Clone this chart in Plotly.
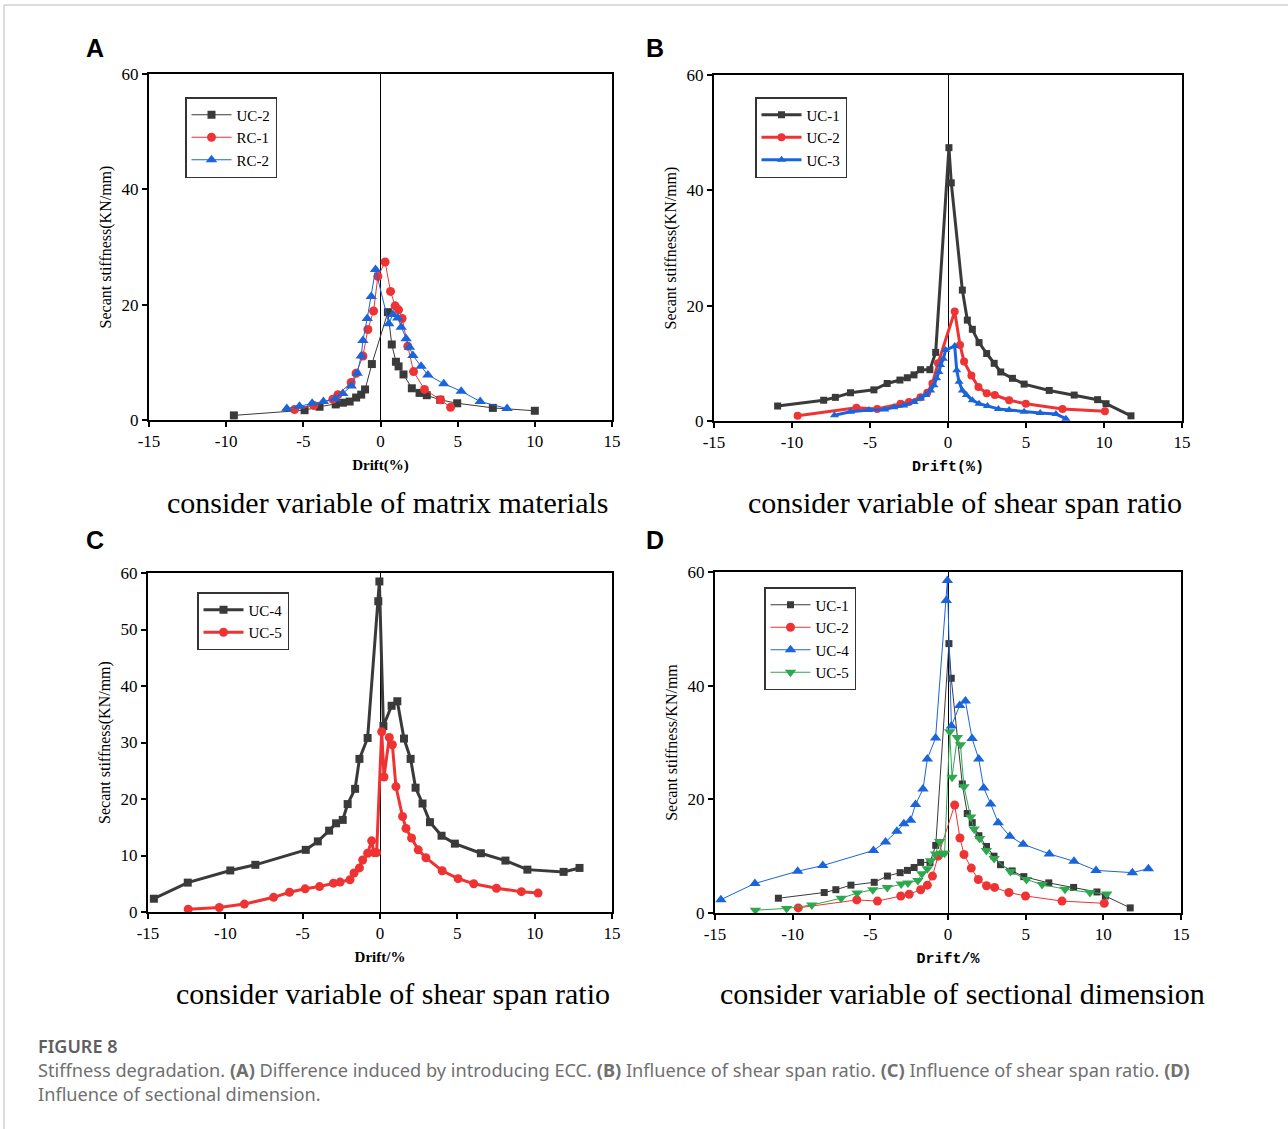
import plotly.graph_objects as go

# ---- data ----
a_uc2_x = [-9.5, -4.92, -3.95, -2.9, -2.44, -2.0, -1.58, -1.25, -1.0, -0.56,
           0.48, 0.73, 1.0, 1.17, 1.49, 2.03, 2.53, 3.0, 3.87, 4.97, 7.28, 10.0]
a_uc2_y = [0.8, 1.7, 2.3, 2.7, 3.0, 3.2, 3.9, 4.4, 5.3, 9.7,
           18.7, 13.1, 10.1, 9.3, 7.9, 5.5, 4.7, 4.3, 3.5, 2.9, 2.1, 1.6]

a_rc1_x = [-5.57, -4.32, -3.09, -2.76, -1.9, -1.58, -1.14, -0.82, -0.45, -0.17,
           0.3, 0.65, 0.95, 1.17, 1.4, 1.77, 2.14, 2.85, 3.89, 4.54]
a_rc1_y = [1.8, 2.5, 3.6, 4.4, 6.5, 8.1, 11.1, 15.7, 18.9, 24.9,
           27.4, 22.3, 19.8, 19.1, 17.6, 12.8, 8.4, 5.3, 3.5, 2.2]

a_rc2_x = [-6.07, -5.25, -4.43, -3.7, -2.92, -2.44, -1.9, -1.51, -1.25, -1.14,
           -0.86, -0.6, -0.32, 0.54, 0.8, 1.12, 1.34, 1.66, 1.88, 2.1,
           2.63, 3.07, 4.1, 5.23, 6.46, 8.2]
a_rc2_y = [2.0, 2.4, 2.9, 3.2, 3.7, 4.6, 5.9, 8.1, 11.1, 13.8,
           17.6, 21.4, 26.1, 16.7, 18.3, 17.7, 16.1, 14.1, 12.6, 11.2,
           9.3, 7.8, 6.3, 5.0, 3.2, 2.0]

uc1_x = [-10.92, -7.97, -7.22, -6.25, -4.75, -3.9, -3.08, -2.61, -2.18, -1.76,
         -1.16, -0.79, 0.06, 0.21, 0.92, 1.24, 1.56, 1.99, 2.48, 2.96,
         3.38, 4.13, 4.88, 6.49, 8.09, 9.59, 10.13, 11.73]
uc1_y = [2.6, 3.6, 4.1, 4.9, 5.4, 6.5, 7.1, 7.5, 8.0, 8.9,
         8.9, 11.9, 47.4, 41.3, 22.7, 17.5, 15.9, 13.6, 11.7, 10.0,
         8.5, 7.4, 6.4, 5.3, 4.5, 3.7, 3.0, 0.9]

uc2_x = [-9.64, -5.87, -4.54, -3.04, -2.5, -1.76, -1.33, -1.0, -0.64,
         0.43, 0.77, 1.03, 1.5, 1.95, 2.48, 3.0, 3.92, 4.99, 7.34, 10.06]
uc2_y = [0.9, 2.3, 2.1, 3.0, 3.3, 4.1, 4.9, 6.5, 10.0,
         19.0, 13.2, 10.3, 7.9, 5.9, 4.8, 4.5, 3.6, 3.0, 2.1, 1.7]

uc3_x = [-7.28, -6.25, -5.07, -4.05, -3.47, -2.83, -2.18, -1.76, -1.43, -1.11,
         -0.9, -0.73, -0.58, -0.47, -0.3, -0.15, 0.43, 0.56, 0.71, 0.92,
         1.18, 1.56, 1.99, 2.53, 3.23, 3.92, 4.88, 5.91, 6.92, 7.56]
uc3_y = [1.0, 1.6, 1.9, 2.0, 2.4, 2.7, 3.3, 3.9, 4.5, 5.3,
         6.2, 7.4, 8.5, 9.7, 10.8, 12.3, 13.0, 8.8, 6.8, 5.3,
         4.5, 3.6, 3.0, 2.6, 2.1, 1.9, 1.6, 1.4, 1.2, 0.4]

uc4_x = [-14.62, -12.43, -9.68, -8.06, -4.8, -4.02, -3.29, -2.84, -2.41, -2.09,
         -1.61, -1.33, -0.8, -0.11, -0.04, 0.22, 0.75, 1.12, 1.55, 1.98,
         2.3, 2.75, 3.23, 3.98, 4.84, 6.52, 8.11, 9.53, 11.87, 12.9]
uc4_y = [2.35, 5.2, 7.35, 8.35, 11.0, 12.5, 14.4, 15.7, 16.3, 19.1,
         21.8, 27.1, 30.8, 55.0, 58.5, 32.9, 36.5, 37.3, 30.7, 27.1,
         22.0, 19.2, 15.9, 13.5, 12.1, 10.4, 9.1, 7.5, 7.1, 7.8]

uc5_x = [-12.4, -10.39, -8.77, -6.88, -5.85, -4.84, -3.91, -3.01, -2.58, -1.94,
         -1.68, -1.33, -1.12, -0.8, -0.54, -0.39, -0.22, 0.11, 0.26, 0.6,
         0.8, 1.03, 1.46, 1.68, 2.04, 2.47, 2.97, 4.02, 5.05, 6.06,
         7.53, 9.14, 10.22]
uc5_y = [0.5, 0.8, 1.4, 2.6, 3.5, 4.1, 4.5, 5.1, 5.3, 5.7,
         6.9, 7.8, 9.2, 10.4, 12.6, 10.5, 10.5, 31.9, 23.9, 30.9,
         29.6, 22.2, 16.9, 14.8, 13.1, 11.0, 9.6, 7.3, 5.9, 5.0,
         4.2, 3.6, 3.35]

x_ticks = [-15, -10, -5, 0, 5, 10, 15]
x_tick_labels = ["-15", "-10", "-5", "0", "5", "10", "15"]

DARK = "#3a3a3a"
RED = "#ef3333"
BLUE = "#1a64dc"
GREEN = "#2ea84e"

W, H = 1288, 1129


def px(x):
    return x / W


def py(y):
    return 1 - y / H


fig = go.Figure()


def add(name, xs, ys, color, symbol, axis, legend, lw, ms):
    fig.add_trace(go.Scatter(
        x=xs, y=ys, name=name, mode="lines+markers",
        line=dict(color=color, width=lw),
        marker=dict(color=color, symbol=symbol, size=ms),
        xaxis="x" + axis, yaxis="y" + axis, legend=legend,
    ))


add("UC-2", a_uc2_x, a_uc2_y, DARK, "square", "", "legend", 1, 8)
add("RC-1", a_rc1_x, a_rc1_y, RED, "circle", "", "legend", 1, 9)
add("RC-2", a_rc2_x, a_rc2_y, BLUE, "triangle-up", "", "legend", 1, 10)

add("UC-1", uc1_x, uc1_y, DARK, "square", "2", "legend2", 3, 7)
add("UC-2", uc2_x, uc2_y, RED, "circle", "2", "legend2", 3, 8)
add("UC-3", uc3_x, uc3_y, BLUE, "triangle-up", "2", "legend2", 3, 8)

add("UC-4", uc4_x, uc4_y, DARK, "square", "3", "legend3", 3, 8)
add("UC-5", uc5_x, uc5_y, RED, "circle", "3", "legend3", 3, 9)

add("UC-1", uc1_x, uc1_y, DARK, "square", "4", "legend4", 1, 7)
add("UC-2", uc2_x, uc2_y, RED, "circle", "4", "legend4", 1, 9)
add("UC-4", uc4_x, uc4_y, BLUE, "triangle-up", "4", "legend4", 1, 10)
add("UC-5", uc5_x, uc5_y, GREEN, "triangle-down", "4", "legend4", 1, 10)

tick_font = dict(family="Liberation Serif", size=17, color="black")
title_font = dict(family="Liberation Serif", size=15, color="black", weight="bold")
mono_font = dict(family="Liberation Mono", size=15, color="black", weight="bold")

# pixel boxes of the four plot areas: left, right, top, bottom
boxes = {
    "": (149, 612, 74, 420),
    "2": (714, 1182, 75, 421),
    "3": (148, 612, 573, 912),
    "4": (715, 1181, 572, 913),
}
x_titles = {"": ("Drift(%)", title_font), "2": ("Drift(%)", mono_font),
            "3": ("Drift/%", title_font), "4": ("Drift/%", mono_font)}
y_titles = {"": "Secant stiffness(KN/mm)", "2": "Secant stiffness(KN/mm)",
            "3": "Secant stiffness(KN/mm)", "4": "Secant stiffness/KN/mm"}
y_dtick = {"": 20, "2": 20, "3": 10, "4": 20}

layout_axes = {}
for k, (l, r, t, b) in boxes.items():
    layout_axes["xaxis" + k] = dict(
        domain=[px(l), px(r)], range=[-15, 15], tickvals=x_ticks, ticktext=x_tick_labels,
        anchor="y" + k, showgrid=False, showline=True, mirror=True,
        linecolor="black", linewidth=2, ticks="outside", ticklen=5,
        tickwidth=1.5, tickcolor="black", tickfont=tick_font,
        zeroline=True, zerolinecolor="black", zerolinewidth=1, automargin=False,
        title=dict(text=x_titles[k][0], font=x_titles[k][1], standoff=9),
    )
    layout_axes["yaxis" + k] = dict(
        domain=[py(b), py(t)], range=[0, 60], dtick=y_dtick[k],
        anchor="x" + k, showgrid=False, showline=True, mirror=True,
        linecolor="black", linewidth=2, ticks="outside", ticklen=5,
        tickwidth=1.5, tickcolor="black", tickfont=tick_font, zeroline=False,
        automargin=False,
        title=dict(text=y_titles[k], font=dict(family="Liberation Serif", size=16, color="black"),
                   standoff=6),
    )

legend_font = dict(family="Liberation Serif", size=15, color="black")


def legend_at(x, y):
    return dict(x=px(x), y=py(y), xanchor="left", yanchor="top",
                bgcolor="white", bordercolor="#333333", borderwidth=1.5,
                font=legend_font, tracegroupgap=0, itemwidth=40)


annotations = []
for label, x, y in [("A", 95, 48), ("B", 655, 48), ("C", 95, 540), ("D", 655, 540)]:
    annotations.append(dict(text=label, x=px(x), y=py(y), xref="paper", yref="paper",
                            showarrow=False, xanchor="center", yanchor="middle",
                            font=dict(family="Liberation Sans", size=25, color="black",
                                      weight="bold")))

captions = [
    ("consider variable of matrix materials", 388, 502),
    ("consider variable of shear span ratio", 965, 502),
    ("consider variable of shear span ratio", 393, 993),
    ("consider variable of sectional dimension", 962, 993),
]
for text, x, y in captions:
    annotations.append(dict(text=text, x=px(x), y=py(y), xref="paper", yref="paper",
                            showarrow=False, xanchor="center", yanchor="middle",
                            font=dict(family="Liberation Serif", size=30, color="black")))

cap_font = dict(family="Noto Sans", size=18.2, color="#707070")
annotations.append(dict(text="FIGURE 8", x=px(36), y=py(1046), xref="paper", yref="paper",
                        showarrow=False, xanchor="left", yanchor="middle",
                        font=dict(family="Noto Sans", size=18, color="#5e5e5e", weight=600)))
annotations.append(dict(
    text="Stiffness degradation. <b>(A)</b> Difference induced by introducing ECC. "
         "<b>(B)</b> Influence of shear span ratio. <b>(C)</b> Influence of shear span ratio. <b>(D)</b>",
    x=px(36), y=py(1070), xref="paper", yref="paper", showarrow=False,
    xanchor="left", yanchor="middle", font=cap_font))
annotations.append(dict(
    text="Influence of sectional dimension.",
    x=px(36), y=py(1094), xref="paper", yref="paper", showarrow=False,
    xanchor="left", yanchor="middle", font=cap_font))

shapes = [
    dict(type="line", xref="paper", yref="paper", x0=px(4), x1=1, y0=py(5), y1=py(5),
         line=dict(color="#d0d0d0", width=1.5)),
    dict(type="line", xref="paper", yref="paper", x0=px(4), x1=px(4), y0=py(5), y1=0,
         line=dict(color="#d0d0d0", width=1.5)),
]

fig.update_layout(
    width=W, height=H, margin=dict(l=0, r=0, t=0, b=0, autoexpand=False),
    paper_bgcolor="white", plot_bgcolor="white",
    legend=legend_at(185, 97), legend2=legend_at(755, 97),
    legend3=legend_at(197, 592), legend4=legend_at(764, 587),
    annotations=annotations, shapes=shapes,
    **layout_axes,
)

fig.write_html("out.html", config={"displayModeBar": False},
               post_script="document.body.style.margin = '0';")
